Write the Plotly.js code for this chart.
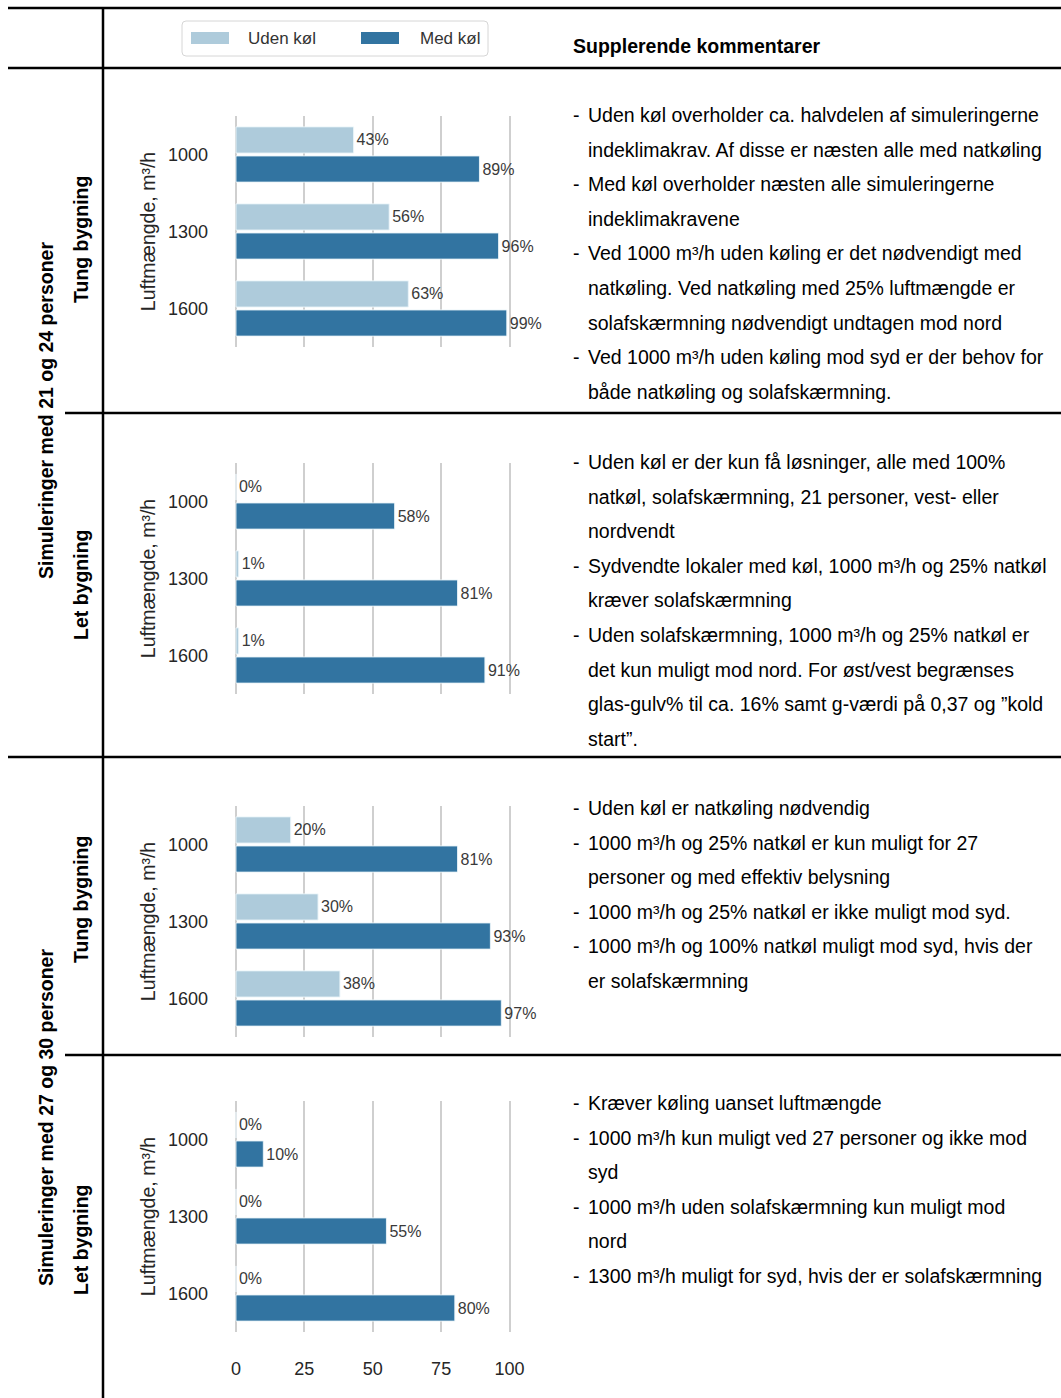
<!DOCTYPE html>
<html><head><meta charset="utf-8">
<script src="https://cdn.plot.ly/plotly-3.0.1.min.js"></script>
<style>html,body{margin:0;padding:0;background:#fff;}#chart{width:1061px;height:1398px;}</style>
</head><body><div id="chart"></div>
<script>
// ---------- data ----------
const airflow = ['1000', '1300', '1600'];
const seriesNames = ['Uden køl', 'Med køl'];
const tung2124Uden = [43, 56, 63];
const tung2124Med  = [89, 96, 99];
const let2124Uden  = [0, 1, 1];
const let2124Med   = [58, 81, 91];
const tung2730Uden = [20, 30, 38];
const tung2730Med  = [81, 93, 97];
const let2730Uden  = [0, 0, 0];
const let2730Med   = [10, 55, 80];
const xTicks = [0, 25, 50, 75, 100];
const yTitle = 'Luftmængde, m³/h';
const groupLabels = ['Simuleringer med 21 og 24 personer', 'Simuleringer med 27 og 30 personer'];
const buildingLabels = ['Tung bygning', 'Let bygning', 'Tung bygning', 'Let bygning'];
const commentHeader = 'Supplerende kommentarer';
const comments1 = [
  ['Uden køl overholder ca. halvdelen af simuleringerne', 'indeklimakrav. Af disse er næsten alle med natkøling'],
  ['Med køl overholder næsten alle simuleringerne', 'indeklimakravene'],
  ['Ved 1000 m³/h uden køling er det nødvendigt med', 'natkøling. Ved natkøling med 25% luftmængde er', 'solafskærmning nødvendigt undtagen mod nord'],
  ['Ved 1000 m³/h uden køling mod syd er der behov for', 'både natkøling og solafskærmning.']
];
const comments2 = [
  ['Uden køl er der kun få løsninger, alle med 100%', 'natkøl, solafskærmning, 21 personer, vest- eller', 'nordvendt'],
  ['Sydvendte lokaler med køl, 1000 m³/h og 25% natkøl', 'kræver solafskærmning'],
  ['Uden solafskærmning, 1000 m³/h og 25% natkøl er', 'det kun muligt mod nord. For øst/vest begrænses', 'glas-gulv% til ca. 16% samt g-værdi på 0,37 og ”kold', 'start”.']
];
const comments3 = [
  ['Uden køl er natkøling nødvendig'],
  ['1000 m³/h og 25% natkøl er kun muligt for 27', 'personer og med effektiv belysning'],
  ['1000 m³/h og 25% natkøl er ikke muligt mod syd.'],
  ['1000 m³/h og 100% natkøl muligt mod syd, hvis der', 'er solafskærmning']
];
const comments4 = [
  ['Kræver køling uanset luftmængde'],
  ['1000 m³/h kun muligt ved 27 personer og ikke mod', 'syd'],
  ['1000 m³/h uden solafskærmning kun muligt mod', 'nord'],
  ['1300 m³/h muligt for syd, hvis der er solafskærmning']
];

// ---------- layout helpers ----------
const W = 1061, H = 1398;
const fx = p => p / W;
const fy = p => 1 - p / H;
const FONT = 'Liberation Sans, Arial, Helvetica, sans-serif';
const colors = ['#aecbdb', '#3274a1'];
const panels = [
  {uden: tung2124Uden, med: tung2124Med, top: 116},
  {uden: let2124Uden,  med: let2124Med,  top: 463},
  {uden: tung2730Uden, med: tung2730Med, top: 806},
  {uden: let2730Uden,  med: let2730Med,  top: 1101}
];
const plotH = 231;
const xLeft = 234.6, xRight = 510.9;

const traces = [];
const layout = {
  width: W, height: H, autosize: false,
  margin: {l: 0, r: 0, t: 0, b: 0, pad: 0},
  paper_bgcolor: '#ffffff', plot_bgcolor: '#ffffff',
  barmode: 'group', bargap: 0.245, bargroupgap: 0.1,
  showlegend: false,
  font: {family: FONT, color: '#262626'},
  shapes: [], annotations: []
};

panels.forEach((p, i) => {
  const sx = i ? String(i + 1) : '';
  const xa = 'x' + sx, ya = 'y' + sx;
  [p.uden, p.med].forEach((vals, k) => {
    traces.push({
      type: 'bar', orientation: 'h', name: seriesNames[k],
      y: airflow, x: vals,
      xaxis: xa, yaxis: ya,
      marker: {color: colors[k], line: {color: 'rgba(235,245,250,0.9)', width: 1}},
      texttemplate: '%{x}%', textposition: 'outside', constraintext: 'none',
      cliponaxis: false,
      textfont: {family: FONT, size: 16, color: '#3a3a3a'},
      hoverinfo: 'skip'
    });
  });
  layout['xaxis' + sx] = {
    anchor: ya, domain: [fx(xLeft), fx(xRight)], range: [-0.5, 100.5],
    tickvals: xTicks, showgrid: true, gridcolor: '#cfcfcf', gridwidth: 2,
    zeroline: false, showline: false,
    showticklabels: i === 3, ticks: i === 3 ? 'outside' : '', ticklen: 20,
    tickcolor: 'rgba(0,0,0,0)', tickfont: {family: FONT, size: 18, color: '#262626'},
    fixedrange: true
  };
  layout['yaxis' + sx] = {
    anchor: xa, domain: [fy(p.top + plotH), fy(p.top)],
    type: 'category', categoryorder: 'array', categoryarray: airflow,
    range: [2.5, -0.5], showgrid: false, zeroline: false, showline: false,
    ticks: 'outside', ticklen: 22, tickcolor: 'rgba(0,0,0,0)',
    tickfont: {family: FONT, size: 18, color: '#262626'},
    title: {text: yTitle, font: {family: FONT, size: 19.5, color: '#262626'}, standoff: 7},
    fixedrange: true
  };
});

// ---------- table lines ----------
const lineStyle = {color: '#000000', width: 2.5};
const hLines = [[8, 8], [68, 8], [413, 65], [757, 8], [1055, 65]];
hLines.forEach(([y, x0]) => layout.shapes.push({type: 'line', xref: 'paper', yref: 'paper',
  x0: fx(x0), x1: 1, y0: fy(y), y1: fy(y), line: lineStyle}));
layout.shapes.push({type: 'line', xref: 'paper', yref: 'paper', x0: fx(103), x1: fx(103),
  y0: fy(8), y1: 0, line: lineStyle});

// ---------- legend (drawn) ----------
(function () {
  const x0 = 182, x1 = 488, y0 = 21, y1 = 56, r = 4;
  const P = (x, y) => fx(x) + ',' + fy(y);
  const path = 'M' + P(x0 + r, y0) + ' L' + P(x1 - r, y0) + ' Q' + P(x1, y0) + ' ' + P(x1, y0 + r) +
    ' L' + P(x1, y1 - r) + ' Q' + P(x1, y1) + ' ' + P(x1 - r, y1) + ' L' + P(x0 + r, y1) +
    ' Q' + P(x0, y1) + ' ' + P(x0, y1 - r) + ' L' + P(x0, y0 + r) + ' Q' + P(x0, y0) + ' ' + P(x0 + r, y0) + ' Z';
  layout.shapes.push({type: 'path', xref: 'paper', yref: 'paper', path: path,
    line: {color: '#d6d6d6', width: 1}, fillcolor: 'rgba(255,255,255,0.9)'});
  const sw = [[191, 229], [361, 399]];
  const tx = [246, 418];
  sw.forEach((s, k) => {
    layout.shapes.push({type: 'rect', xref: 'paper', yref: 'paper', x0: fx(s[0]), x1: fx(s[1]),
      y0: fy(44), y1: fy(32), line: {width: 0}, fillcolor: colors[k]});
    layout.annotations.push({xref: 'paper', yref: 'paper', x: fx(tx[k]), y: fy(38),
      xanchor: 'left', yanchor: 'middle', showarrow: false, text: seriesNames[k],
      font: {family: FONT, size: 17, color: '#333333'}});
  });
})();

// ---------- left labels ----------
const leftLabel = (text, x, y) => layout.annotations.push({xref: 'paper', yref: 'paper',
  x: fx(x), y: fy(y), xanchor: 'center', yanchor: 'middle', textangle: -90, showarrow: false,
  text: '<b>' + text + '</b>', font: {family: FONT, size: 19.5, color: '#000000'}});
leftLabel(groupLabels[0], 46, 411);
leftLabel(groupLabels[1], 46, 1118);
const bCenters = [240, 585, 900, 1240];
buildingLabels.forEach((t, i) => leftLabel(t, 81, bCenters[i]));

// ---------- comments ----------
layout.annotations.push({xref: 'paper', yref: 'paper', x: fx(571), y: fy(46), xanchor: 'left',
  yanchor: 'middle', showarrow: false, text: '<b>' + commentHeader + '</b>',
  font: {family: FONT, size: 19.5, color: '#000000'}});
const commentRows = [[comments1, 115], [comments2, 462], [comments3, 808], [comments4, 1103]];
const lineGap = 34.6;
commentRows.forEach(([bullets, startY]) => {
  let n = 0;
  bullets.forEach(lines => {
    lines.forEach((ln, j) => {
      const y = startY + n * lineGap;
      if (j === 0) layout.annotations.push({xref: 'paper', yref: 'paper', x: fx(571), y: fy(y),
        xanchor: 'left', yanchor: 'middle', showarrow: false, text: '-',
        font: {family: FONT, size: 19.5, color: '#000000'}});
      layout.annotations.push({xref: 'paper', yref: 'paper', x: fx(586), y: fy(y),
        xanchor: 'left', yanchor: 'middle', showarrow: false, text: ln,
        font: {family: FONT, size: 19.5, color: '#000000'}});
      n++;
    });
  });
});

Plotly.newPlot('chart', traces, layout, {displayModeBar: false, staticPlot: true});
</script>
</body></html>
